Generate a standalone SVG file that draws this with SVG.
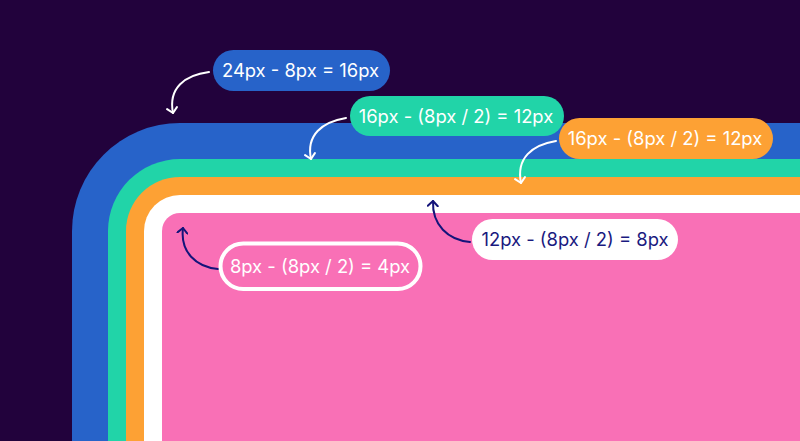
<svg xmlns="http://www.w3.org/2000/svg" width="800" height="441" viewBox="0 0 800 441">
<defs>
<style>
.lbl{font-family:Inter,"Liberation Sans",sans-serif;font-size:18.4px;text-anchor:middle}
.w{fill:#ffffff}
.n{fill:#1a1a80}
.cw{fill:none;stroke:#ffffff;stroke-width:2;stroke-linecap:round}
.cn{fill:none;stroke:#14147a;stroke-width:2;stroke-linecap:round}
</style>
<marker id="aw" viewBox="-6 -6 12 12" markerWidth="12" markerHeight="12" markerUnits="userSpaceOnUse" orient="auto" refX="0" refY="0">
<path d="M-5,-5 L0,0 L-5,5" fill="none" stroke="#ffffff" stroke-width="2" stroke-linecap="round" stroke-linejoin="round"/>
</marker>
<marker id="an" viewBox="-6 -6 12 12" markerWidth="12" markerHeight="12" markerUnits="userSpaceOnUse" orient="auto" refX="0" refY="0">
<path d="M-5,-5 L0,0 L-5,5" fill="none" stroke="#14147a" stroke-width="2" stroke-linecap="round" stroke-linejoin="round"/>
</marker>
</defs>
<rect width="800" height="441" fill="#22023c"/>
<g id="bands">
<path id="band-blue" d="M72,441 V231 A108,108 0 0 1 180,123 H800 V441 Z" fill="#2763c9"/>
<path id="band-green" d="M108,441 V231 A72,72 0 0 1 180,159 H800 V441 Z" fill="#21d4a8"/>
<path id="band-orange" d="M126,441 V231 A54,54 0 0 1 180,177 H800 V441 Z" fill="#fda134"/>
<path id="band-white" d="M144,441 V231 A36,36 0 0 1 180,195 H800 V441 Z" fill="#ffffff"/>
<path id="band-pink" d="M162,441 V231 A18,18 0 0 1 180,213 H800 V441 Z" fill="#f970b6"/>
</g>
<g id="connectors">
<path class="cw" d="M209,72 C185,75 168,88 173,113" marker-end="url(#aw)"/>
<path class="cw" d="M346,118 C322,122 306,135 311,159" marker-end="url(#aw)"/>
<path class="cw" d="M556,141 C532,145 516,158 521,183" marker-end="url(#aw)"/>
<path class="cn" d="M470,242 C448,240 432,225 433,201" marker-end="url(#an)"/>
<path class="cn" d="M218,269 C196,267 180,252 183,228" marker-end="url(#an)"/>
</g>
<g id="label-blue">
<rect x="213" y="50" width="177" height="41" rx="20.5" fill="#2763c9"/>
<text class="lbl w" x="300.5" y="77">24px - 8px = 16px</text>
</g>
<g id="label-green">
<rect x="350" y="96" width="214" height="40" rx="20" fill="#21d4a8"/>
<text class="lbl w" x="456" y="122.5">16px - (8px / 2) = 12px</text>
</g>
<g id="label-orange">
<rect x="559" y="118" width="214" height="41" rx="20.5" fill="#fda134"/>
<text class="lbl w" x="665" y="145">16px - (8px / 2) = 12px</text>
</g>
<g id="label-white">
<rect x="472" y="219" width="206" height="41" rx="20.5" fill="#ffffff"/>
<text class="lbl n" x="575" y="246">12px - (8px / 2) = 8px</text>
</g>
<g id="label-pink">
<rect x="220.5" y="243.5" width="200" height="45.5" rx="22.75" fill="#f970b6" stroke="#ffffff" stroke-width="4"/>
<text class="lbl w" x="320" y="272.5">8px - (8px / 2) = 4px</text>
</g>
</svg>
